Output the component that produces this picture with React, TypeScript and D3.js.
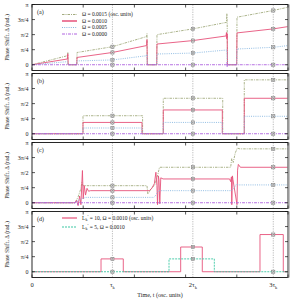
import React from 'react';
import * as d3 from 'd3';

const PI = Math.PI;
const TAU_K = 1570.8; // tau_k in osc. units

// axis labels / ticks
const tauMultiples = [1, 2, 3];
const xTickTimes = [0, 1000, 2000, 3000, 4000, 5000];
const yTicks = [0, PI / 4, PI / 2, (3 * PI) / 4, PI];
const yTickLabels = ['0', 'π/4', 'π/2', '3π/4', 'π'];
const panelLabels = ['(a)', '(b)', '(c)', '(d)'];
const omegaLabels = ['Ω = 0.0015 (osc. units)', 'Ω = 0.0010', 'Ω = 0.0005', 'Ω = 0.0000'];
const lengthLabels = [' = 10, Ω = 0.0010 (osc. units)', ' = 5, Ω = 0.0010'];

// panel (a): [t, phase]
const aOmega15 = [[0, 0], [690, 0.47], [700, 0.63], [706, 0], [874, 0], [880, 0.64], [1571, 0.94], [2238, 1.47], [2246, 1.62], [2252, 0], [2436, 0], [2441, 1.57], [3142, 1.87], [3798, 2.21], [3806, 2.67], [3812, 2.3], [3818, 0], [3998, 0], [4004, 2.48], [4712, 2.83], [5000, 3.0]];
const aOmega10 = [[0, 0], [690, 0.3], [700, 0.57], [706, 0], [874, 0], [880, 0.38], [1571, 0.64], [2238, 1.0], [2246, 1.31], [2252, 0], [2436, 0], [2441, 1.08], [3142, 1.26], [3790, 1.5], [3798, 1.68], [3805, 1.35], [3812, 1.62], [3818, 0], [3998, 0], [4004, 1.66], [4712, 1.87], [5000, 1.99]];
const aOmega05 = [[0, 0], [690, 0.16], [706, 0], [874, 0], [880, 0.2], [1571, 0.25], [2238, 0.47], [2246, 0.55], [2252, 0], [2436, 0], [2441, 0.56], [3142, 0.61], [3806, 0.77], [3816, 0], [3998, 0], [4004, 0.82], [4712, 0.91], [5000, 1.0]];
const aOmega00 = [[0, 0], [3798, 0], [3805, 0.12], [3812, -0.12], [3818, 0], [5000, 0]];

// panel (b)
const bOmega15 = [[0, 0], [996, 0], [996, 0.94], [2160, 0.94], [2160, 0], [2564, 0], [2564, 1.85], [3725, 1.85], [3725, 0], [4146, 0], [4146, 2.81], [5000, 2.81]];
const bOmega10 = [[0, 0], [996, 0], [996, 0.59], [2148, 0.59], [2148, 0], [2564, 0], [2564, 1.24], [3717, 1.24], [3717, 0], [4146, 0], [4146, 1.85], [5000, 1.85]];
const bOmega05 = [[0, 0], [996, 0], [996, 0.3], [2148, 0.3], [2148, 0], [2564, 0], [2564, 0.59], [3717, 0.59], [3717, 0], [4146, 0], [4146, 0.91], [5000, 0.91]];
const bOmega00 = [[0, 0], [5000, 0]];

// panel (c)
const cOmega15 = [[0, 0], [840, 0], [900, 0.3], [950, 0.7], [975, 1.05], [996, 0.89], [2246, 0.89], [2262, 0.45], [2320, 0.7], [2400, 0.95], [2460, 1.5], [2490, 1.85], [3880, 1.85], [3900, 2.3], [3930, 2.1], [3970, 2.6], [4010, 2.85], [4060, 2.81], [5000, 2.81]];
const cOmega10 = [[0, 0], [840, 0], [870, 0.12], [900, -0.15], [930, 0.35], [955, -0.1], [985, 1.68], [1000, 0.2], [1020, 0.9], [1045, 0.4], [1075, 0.75], [1105, 0.6], [1140, 0.63], [2290, 0.63], [2340, 0.75], [2390, 1.0], [2420, 1.59], [2440, 0.9], [2452, -0.1], [2468, 1.4], [2480, 1.2], [2496, -0.05], [2515, 1.3], [2560, 1.24], [3860, 1.24], [3880, 1.1], [3895, 1.35], [3902, -0.1], [3915, 1.4], [3925, 1.2], [4004, -0.1], [4015, 1.7], [4030, 2.0], [4070, 1.85], [5000, 1.85]];
const cOmega05 = [[0, 0], [840, 0], [900, 0.12], [960, 0.2], [1050, 0.28], [2380, 0.28], [2420, 0.4], [2470, 0.63], [3890, 0.63], [3930, 0.7], [3990, 0.96], [4040, 0.93], [5000, 0.93]];
const cOmega00 = [[0, 0], [850, 0], [875, 0.1], [900, -0.1], [935, 0.06], [960, 0], [5000, 0]];

// panel (d)
const dLength10 = [[0, 0], [1348, 0], [1348, 0.67], [1783, 0.67], [1783, 0], [2904, 0], [2904, 1.29], [3326, 1.29], [3326, 0], [4453, 0], [4453, 1.94], [4908, 1.94], [4908, 0], [5000, 0]];
const dLength5 = [[0, 0], [2676, 0], [2676, 0.67], [3561, 0.67], [3561, 0], [5000, 0]];

const omegaStyles = [
  { color: '#a3ab7f', dash: '2.5,1,1,1' },
  { color: '#e6527a', dash: undefined },
  { color: '#86b6e0', dash: '1,1.2' },
  { color: '#b064e0', dash: '3,1,1,1' },
];
const lengthStyles = [
  { color: '#e6527a', dash: undefined },
  { color: '#3cc8a4', dash: '2,1' },
];

const panels = [
  { series: [aOmega15, aOmega10, aOmega05, aOmega00], styles: omegaStyles },
  { series: [bOmega15, bOmega10, bOmega05, bOmega00], styles: omegaStyles },
  { series: [cOmega15, cOmega10, cOmega05, cOmega00], styles: omegaStyles },
  { series: [dLength10, dLength5], styles: lengthStyles },
];

const W = 300;
const H = 300;
const left = 32;
const right = 288;
const panelTops = [4.5, 73.5, 142.5, 211.5];
const panelH = 66;
const yMin = -0.3;
const font = 'Liberation Serif, Times New Roman, serif';

const x = d3.scaleLinear().domain([0, 5000]).range([left, right]);

function valueAt(s: number[][], t: number) {
  for (let i = 1; i < s.length; i++) {
    if (s[i][0] >= t && s[i - 1][0] <= t && s[i][0] > s[i - 1][0]) {
      const f = (t - s[i - 1][0]) / (s[i][0] - s[i - 1][0]);
      return s[i - 1][1] + f * (s[i][1] - s[i - 1][1]);
    }
  }
  return 0;
}

const Marker = ({ cx, cy }: { cx: number; cy: number }) => (
  <g stroke="#777" strokeWidth={0.5}>
    <rect x={cx - 1.6} y={cy - 1.6} width={3.2} height={3.2} fill="#ddd" fillOpacity={0.7} />
    <line x1={cx - 1.3} y1={cy - 1.3} x2={cx + 1.3} y2={cy + 1.3} />
    <line x1={cx - 1.3} y1={cy + 1.3} x2={cx + 1.3} y2={cy - 1.3} />
  </g>
);

const Panel = ({ index }: { index: number }) => {
  const top = panelTops[index];
  const bottom = top + panelH;
  const y = d3.scaleLinear().domain([yMin, PI]).range([bottom, top]);
  const { series, styles } = panels[index];
  const line = d3.line<number[]>().x(d => x(d[0])).y(d => y(d[1]));
  const clipId = `clip${index}`;
  return (
    <g>
      <defs>
        <clipPath id={clipId}>
          <rect x={left} y={top} width={right - left} height={panelH} />
        </clipPath>
      </defs>
      {tauMultiples.map(m => (
        <line key={m} x1={x(m * TAU_K)} x2={x(m * TAU_K)} y1={top} y2={bottom}
          stroke="#aaa" strokeWidth={0.8} strokeDasharray="1.2,1.2" />
      ))}
      <g clipPath={`url(#${clipId})`}>
        {series.map((s, i) => (
          <path key={i} d={line(s) || ''} fill="none" stroke={styles[i].color}
            strokeWidth={0.9} strokeDasharray={styles[i].dash} />
        ))}
      </g>
      {series.map((s, i) =>
        tauMultiples.map(m => (
          <Marker key={`${i}-${m}`} cx={x(m * TAU_K)} cy={y(valueAt(s, m * TAU_K))} />
        ))
      )}
      <rect x={left} y={top} width={right - left} height={panelH} fill="none" stroke="#111" strokeWidth={0.9} />
      <line x1={right + 0.5} x2={right + 0.5} y1={top} y2={bottom} stroke="#999" strokeWidth={2.2} />
      {yTicks.map((v, i) => (
        <g key={i}>
          <line x1={left} x2={left + 3} y1={y(v)} y2={y(v)} stroke="#111" strokeWidth={0.7} />
          <line x1={right - 3} x2={right} y1={y(v)} y2={y(v)} stroke="#111" strokeWidth={0.7} />
          <text x={left - 3.5} y={y(v)} dy="0.35em" textAnchor="end" fontSize={6} fontFamily={font} fill="#222">
            {yTickLabels[i]}
          </text>
        </g>
      ))}
      {xTickTimes.map(t => (
        <g key={t}>
          <line x1={x(t)} x2={x(t)} y1={top} y2={top + 3} stroke="#111" strokeWidth={0.7} />
          <line x1={x(t)} x2={x(t)} y1={bottom - 3} y2={bottom} stroke="#111" strokeWidth={0.7} />
        </g>
      ))}
      <text x={left + 5} y={top + 9} fontSize={6} fontFamily={font} fill="#222">{panelLabels[index]}</text>
      <text transform={`translate(8.5,${top + panelH / 2}) rotate(-90)`} textAnchor="middle"
        fontSize={5.8} fontFamily={font} fill="#222">Phase Shift, Δ (rad.)</text>
    </g>
  );
};

const App = () => {
  const legendX0 = 62;
  const legendX1 = 77;
  const legendTextX = 82;
  return (
    <svg width={W} height={H} style={{ position: 'absolute', left: 0, top: 0, background: '#fff' }}>
      <rect width={W} height={H} fill="#fff" />
      {panels.map((_, i) => <Panel key={i} index={i} />)}

      {omegaLabels.map((lab, i) => {
        const ly = 14.5 + i * 6.5;
        return (
          <g key={lab}>
            <line x1={legendX0} x2={legendX1} y1={ly} y2={ly} stroke={omegaStyles[i].color}
              strokeWidth={i === 1 ? 1.5 : 1} strokeDasharray={omegaStyles[i].dash} />
            <text x={legendTextX} y={ly} dy="0.35em" fontSize={5.5} fontFamily={font} fill="#222">{lab}</text>
          </g>
        );
      })}

      {lengthLabels.map((lab, i) => {
        const ly = 218 + i * 9;
        return (
          <g key={lab}>
            <line x1={legendX0} x2={legendX1} y1={ly} y2={ly} stroke={lengthStyles[i].color}
              strokeWidth={1.2} strokeDasharray={lengthStyles[i].dash} />
            <text x={legendTextX} y={ly} dy="0.35em" fontSize={5.5} fontFamily={font} fill="#222">
              L<tspan fontSize={4} dy={1.5}>k</tspan><tspan fontSize={4.5} dy={-3.5}>′</tspan>
              <tspan dy={2}>{lab}</tspan>
            </text>
          </g>
        );
      })}

      <text x={x(0)} y={287} textAnchor="middle" fontSize={6.5} fontFamily={font} fill="#222">0</text>
      {tauMultiples.map(m => (
        <text key={m} x={x(m * TAU_K)} y={287} textAnchor="middle" fontSize={6.5} fontFamily={font} fill="#222">
          {m > 1 ? m : ''}τ<tspan fontSize={4.5} dy={1.5}>k</tspan>
        </text>
      ))}
      <text x={160} y={297} textAnchor="middle" fontSize={6} fontFamily={font} fill="#222">
        Time, t (osc. units)
      </text>
    </svg>
  );
};

export default App;
